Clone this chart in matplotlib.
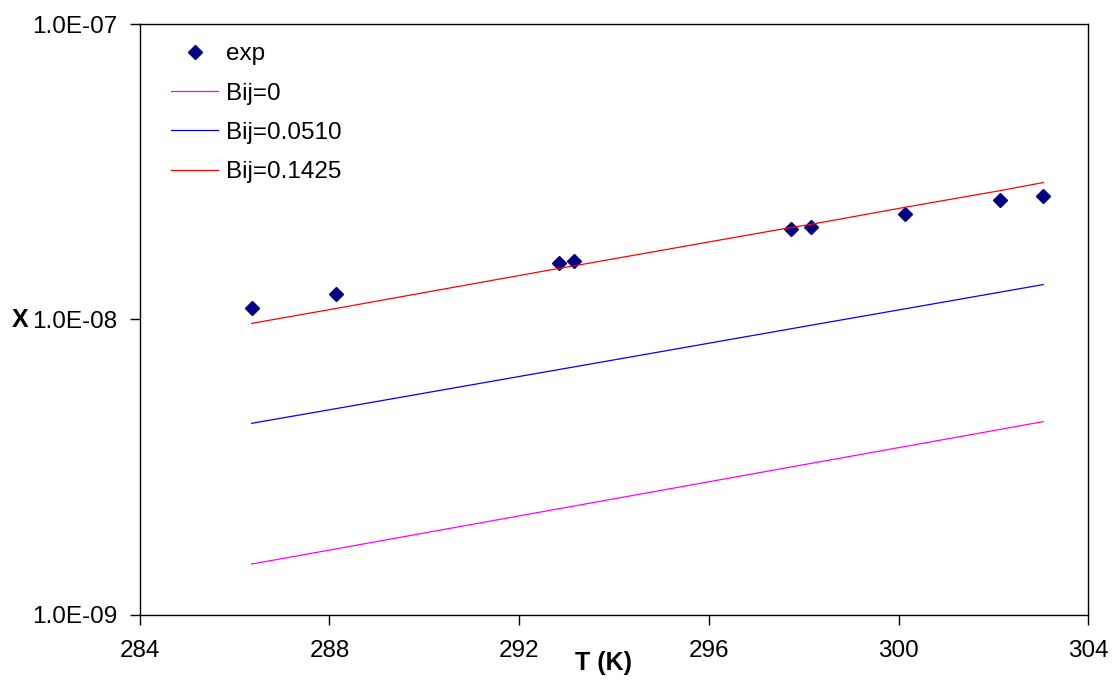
import matplotlib
matplotlib.use("Agg")
import matplotlib.pyplot as plt
from matplotlib.ticker import FixedLocator, FuncFormatter, NullLocator

plt.rcParams['font.family'] = ['Liberation Sans', 'DejaVu Sans']

# Temperature (K) of each measurement
temperature = [286.36, 288.14, 292.84, 293.16, 297.73, 298.15, 300.14, 302.13, 303.05]

# Measured solubility (mole fraction)
x_exp = [1.096e-8, 1.22e-8, 1.556e-8, 1.58e-8, 2.02e-8, 2.05e-8, 2.28e-8, 2.53e-8, 2.61e-8]

# Model predictions for three interaction parameters
x_bij_0 = [1.485e-9, 1.671e-9, 2.286e-9, 2.335e-9, 3.165e-9, 3.254e-9, 3.715e-9, 4.24e-9, 4.51e-9]
x_bij_0510 = [4.45e-9, 4.99e-9, 6.77e-9, 6.91e-9, 9.30e-9, 9.56e-9, 1.087e-8, 1.237e-8, 1.313e-8]
x_bij_1425 = [9.7e-9, 1.09e-8, 1.49e-8, 1.52e-8, 2.05e-8, 2.10e-8, 2.40e-8, 2.73e-8, 2.91e-8]

x_ticks = [284, 288, 292, 296, 300, 304]
y_ticks = [1e-9, 1e-8, 1e-7]
y_tick_labels = ["1.0E-09", "1.0E-08", "1.0E-07"]

fig = plt.figure(figsize=(11.18, 6.8), dpi=100)
ax = fig.add_axes([0.125, 0.096, 0.8484, 0.8683])

ax.plot(temperature, x_exp, linestyle='none', marker='D', markersize=7.5,
        color='#000080', markeredgecolor='#000080', label='exp')
ax.plot(temperature, x_bij_0, color='#FF00FF', linewidth=0.9, label='Bij=0')
ax.plot(temperature, x_bij_0510, color='#0000FF', linewidth=0.9, label='Bij=0.0510')
ax.plot(temperature, x_bij_1425, color='#FF0000', linewidth=0.9, label='Bij=0.1425')

ax.set_yscale('log')
ax.set_xlim(284, 304)
ax.set_ylim(1e-9, 1e-7)
ax.xaxis.set_major_locator(FixedLocator(x_ticks))
ax.yaxis.set_major_locator(FixedLocator(y_ticks))
ax.yaxis.set_minor_locator(NullLocator())
ax.yaxis.set_major_formatter(FuncFormatter(
    lambda v, p: y_tick_labels[y_ticks.index(min(y_ticks, key=lambda t: abs(t - v)))]))

ax.tick_params(axis='both', direction='out', length=7, width=1, labelsize=17.5, colors='black')
ax.tick_params(axis='x', pad=11)
ax.tick_params(axis='y', pad=9)
for s in ax.spines.values():
    s.set_linewidth(1.0)
    s.set_color('black')

ax.set_xlabel('T (K)', fontsize=18, fontweight='bold')
ax.xaxis.set_label_coords(0.4884, -0.082)
ax.xaxis.label.set_verticalalignment('center')
ax.text(-0.126, 0.499, 'X', transform=ax.transAxes, fontsize=18, fontweight='bold',
        ha='center', va='center')

ax.legend(loc='upper left', bbox_to_anchor=(0.0225, 0.984), frameon=False, fontsize=17.5,
          handlelength=1.95, handletextpad=0.3, labelspacing=0.71, borderaxespad=0)

fig.savefig('out.png', dpi=100)
